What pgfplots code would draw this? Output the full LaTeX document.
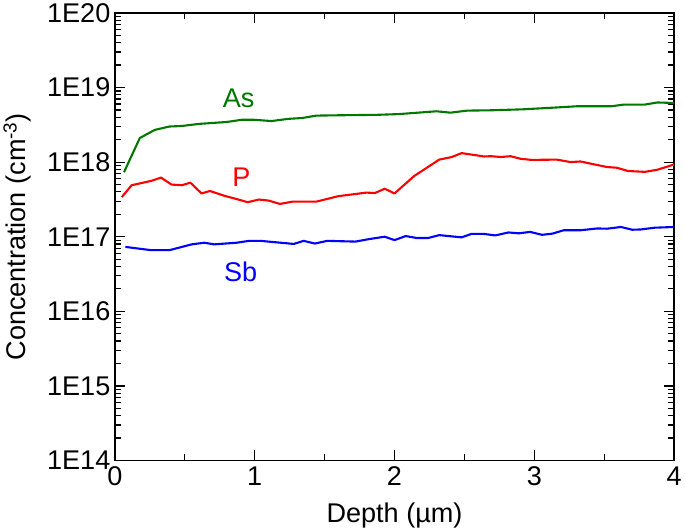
\documentclass[border=0pt]{standalone}
\usepackage{fontspec}
\setmainfont{Liberation Sans}
\usepackage{pgfplots}
\pgfplotsset{compat=1.18}
\definecolor{asgreen}{RGB}{0,120,0}
\definecolor{pred}{RGB}{255,0,0}
\definecolor{sbblue}{RGB}{0,0,255}

\begin{document}
\begin{tikzpicture}
\begin{axis}[
  scale only axis,
  width=556bp, height=445bp,
  xmin=0, xmax=4,
  ymode=log,
  ymin=1e14, ymax=1e20,
  xtick={0,1,2,3,4},
  minor x tick num=1,
  ytick={1e14,1e15,1e16,1e17,1e18,1e19,1e20},
  yticklabels={1E14,1E15,1E16,1E17,1E18,1E19,1E20},
  /pgf/number format/assume math mode=true,
  tick align=inside,
  major tick length=10bp,
  minor tick length=6bp,
  every tick/.style={black, line width=1.2pt},
  axis line style={line width=1.5pt},
  tick label style={font=\fontsize{27}{31}\selectfont},
  yticklabel style={xshift=-1bp},
  xticklabel style={yshift=-3bp},
  label style={font=\fontsize{27}{31}\selectfont},
  xlabel={Depth (µm)},
  ylabel={Concentration (cm\textsuperscript{-3})},
  xlabel style={yshift=-10bp},
  ylabel style={yshift=9bp},
  every axis plot/.append style={line width=2.1pt, line join=round},
]
% As
\addplot[asgreen] coordinates {
(0.065,7.3e17) (0.178,2.1e18) (0.285,2.7e18) (0.39,3.0e18) (0.48,3.05e18)
(0.60,3.25e18) (0.80,3.45e18) (0.91,3.7e18) (0.99,3.7e18) (1.12,3.55e18)
(1.24,3.8e18) (1.34,3.9e18) (1.44,4.2e18) (1.63,4.25e18) (1.87,4.3e18)
(2.03,4.4e18) (2.30,4.8e18) (2.40,4.6e18) (2.52,4.9e18) (2.69,4.95e18)
(2.92,5.1e18) (3.16,5.4e18) (3.30,5.6e18) (3.55,5.6e18) (3.64,5.9e18)
(3.79,5.9e18) (3.88,6.3e18) (4.0,6.2e18)
};
% P
\addplot[pred] coordinates {
(0.05,3.4e17) (0.12,4.9e17) (0.26,5.6e17) (0.33,6.2e17) (0.405,5.0e17)
(0.48,4.9e17) (0.54,5.3e17) (0.62,3.8e17) (0.68,4.1e17) (0.78,3.55e17)
(0.87,3.2e17) (0.95,2.9e17) (1.03,3.15e17) (1.10,3.05e17) (1.18,2.75e17)
(1.27,2.95e17) (1.44,2.95e17) (1.60,3.5e17) (1.80,3.9e17) (1.86,3.85e17)
(1.93,4.4e17) (2.00,3.8e17) (2.14,6.5e17) (2.32,1.08e18) (2.41,1.17e18)
(2.48,1.32e18) (2.64,1.19e18) (2.69,1.2e18) (2.76,1.17e18) (2.83,1.2e18)
(2.90,1.11e18) (2.98,1.07e18) (3.16,1.08e18) (3.26,1.0e18) (3.33,1.02e18)
(3.43,9.3e17) (3.52,8.6e17) (3.59,8.4e17) (3.67,7.6e17) (3.79,7.4e17)
(3.88,7.9e17) (4.0,9.3e17)
};
% Sb
\addplot[sbblue] coordinates {
(0.075,7.3e16) (0.26,6.6e16) (0.39,6.6e16) (0.55,7.9e16) (0.64,8.3e16)
(0.71,7.9e16) (0.87,8.3e16) (0.96,8.8e16) (1.04,8.8e16) (1.28,8.0e16)
(1.35,8.8e16) (1.43,8.1e16) (1.52,8.8e16) (1.72,8.6e16) (1.82,9.3e16)
(1.93,1.0e17) (2.00,9.0e16) (2.08,1.02e17) (2.16,9.6e16) (2.24,9.6e16)
(2.32,1.05e17) (2.48,9.8e16) (2.55,1.09e17) (2.64,1.09e17) (2.72,1.04e17)
(2.815,1.14e17) (2.89,1.11e17) (2.97,1.16e17) (3.055,1.06e17) (3.13,1.1e17)
(3.21,1.22e17) (3.33,1.22e17) (3.45,1.29e17) (3.52,1.28e17) (3.62,1.35e17)
(3.70,1.24e17) (3.76,1.25e17) (3.86,1.32e17) (4.0,1.35e17)
};
\node[asgreen, font=\fontsize{27}{31}\selectfont] at (axis cs:0.885,7.2e18) {As};
\node[pred, font=\fontsize{27}{31}\selectfont] at (axis cs:0.905,6.3e17) {P};
\node[sbblue, font=\fontsize{27}{31}\selectfont] at (axis cs:0.90,3.4e16) {Sb};
\end{axis}
\end{tikzpicture}
\end{document}
